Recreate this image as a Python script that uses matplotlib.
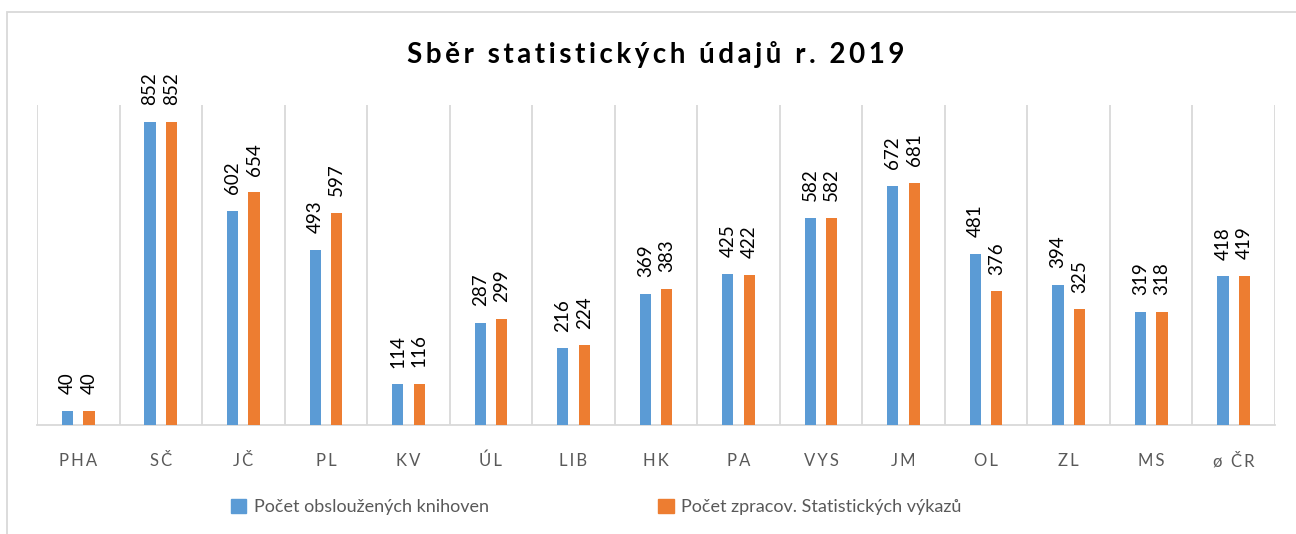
import matplotlib
matplotlib.use("Agg")
import matplotlib.pyplot as plt
import numpy as np
from matplotlib.patches import Patch, Rectangle

plt.rcParams["font.family"] = ["Lato", "DejaVu Sans"]

# --- data ---
regions = ["PHA", "SČ", "JČ", "PL", "KV", "ÚL", "LIB", "HK", "PA", "VYS",
           "JM", "OL", "ZL", "MS", "ø ČR"]
libraries = [40, 852, 602, 493, 114, 287, 216, 369, 425, 582, 672, 481, 394, 319, 418]
reports = [40, 852, 654, 597, 116, 299, 224, 383, 422, 582, 681, 376, 325, 318, 419]
series_names = ["Počet obsloužených knihoven", "Počet zpracov. Statistických výkazů"]
title = "Sběr statistických údajů r. 2019"

BLUE = "#5B9BD5"
ORANGE = "#ED7D31"
GRID = "#D9D9D9"
TEXT = "#595959"

fig = plt.figure(figsize=(12.96, 5.34), dpi=100)
ax = fig.add_axes([37 / 1296, 1 - 425 / 534, (1275 - 37) / 1296, 320 / 534])

x = np.arange(len(regions))
w = 0.135
off = 0.13
b1 = ax.bar(x - off, libraries, w, color=BLUE, zorder=3)
b2 = ax.bar(x + off, reports, w, color=ORANGE, zorder=3)

# rotated value labels above each bar
for bars, vals in ((b1, libraries), (b2, reports)):
    for rect, v in zip(bars, vals):
        ax.annotate(str(v), (rect.get_x() + rect.get_width() / 2, v),
                    xytext=(0, 12), textcoords="offset points",
                    rotation=90, ha="center", va="bottom",
                    fontsize=13.5, color="black")

ax.set_xlim(-0.5, len(regions) - 0.5)
ax.set_ylim(0, 900)
ax.set_yticks([])
ax.set_xticks(x)
ax.set_xticklabels(["\u2009".join(r) for r in regions], fontsize=12, color=TEXT)
ax.tick_params(axis="x", length=0, pad=20)

# category separators
for b in np.arange(-0.5, len(regions), 1.0):
    ax.axvline(b, color=GRID, linewidth=1.3, zorder=1)

for s in ("top", "left", "right"):
    ax.spines[s].set_visible(False)
ax.spines["bottom"].set_color(GRID)
ax.spines["bottom"].set_linewidth(1.3)

fig.text(656 / 1296, 1 - 55 / 534, "\u2009".join(title), ha="center", va="center",
         fontsize=20, fontweight="bold", color="black")

handles = [Patch(color=BLUE), Patch(color=ORANGE)]
fig.legend(handles, series_names, loc="center", bbox_to_anchor=(0.46, 1 - 507 / 534),
           ncol=2, frameon=False, fontsize=13, labelcolor=TEXT,
           handlelength=0.85, handleheight=0.85, handletextpad=0.4, columnspacing=9.4)

# outer chart frame
fig.patches.append(Rectangle((7 / 1296, -0.1), 1.2, 1.1 - 12.5 / 534,
                             transform=fig.transFigure, fill=False,
                             edgecolor=GRID, linewidth=1.3))

fig.savefig("out.png", dpi=100)
